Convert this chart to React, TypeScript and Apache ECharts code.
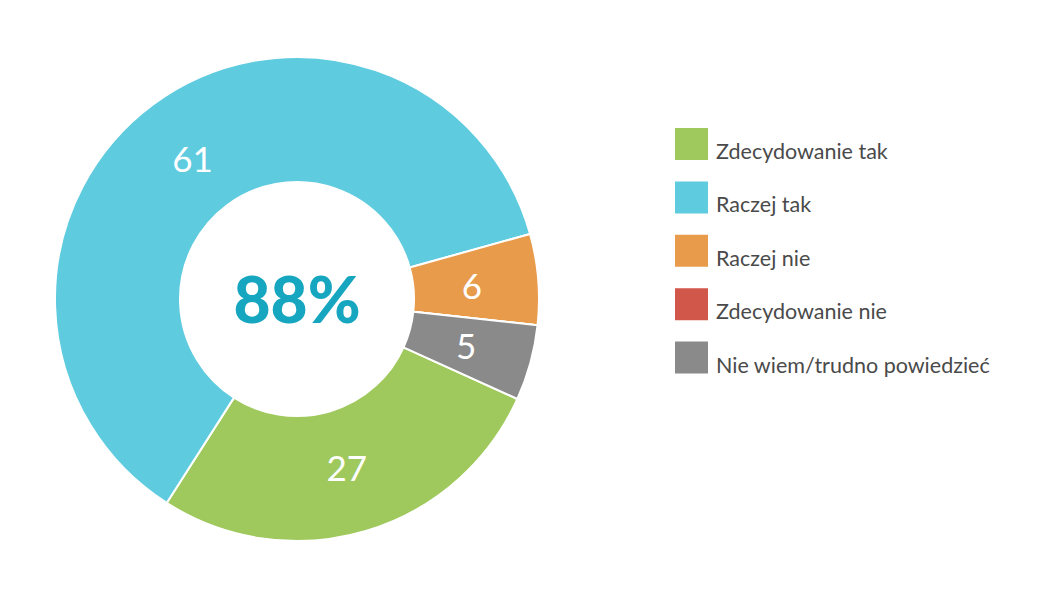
import React, { useEffect, useRef } from "react";
import * as echarts from "echarts";

const categories = [
  "Zdecydowanie tak",
  "Raczej tak",
  "Raczej nie",
  "Zdecydowanie nie",
  "Nie wiem/trudno powiedzieć",
];
const values = [27, 61, 6, 0, 5];
const colors = ["#9fc95c", "#5ecbdf", "#e89b4b", "#d1574b", "#8a8a8a"];
const centerLabel = "88%";

const CX = 297;
const CY = 299;

export default function App() {
  const ref = useRef<HTMLDivElement>(null);
  useEffect(() => {
    if (!ref.current) return;
    const chart = echarts.init(ref.current, undefined, { renderer: "svg" });
    chart.setOption({
      animation: false,
      color: colors,
      legend: {
        orient: "vertical",
        left: 670,
        top: 123,
        itemWidth: 33,
        itemHeight: 46,
        itemGap: 7.4,
        icon: "path://M0,0H33V32H0Z M0,46L33,46",
        itemStyle: { borderWidth: 0 },
        selectedMode: false,
        textStyle: {
          fontFamily: "Lato",
          fontSize: 21.5,
          color: "#4a4a4a",
          padding: [0, 0, 0, 3],
        },
        data: categories,
      },
      graphic: [
        {
          type: "text",
          x: CX,
          y: 298,
          style: {
            text: centerLabel,
            x: 0,
            y: 0,
            align: "center",
            verticalAlign: "middle",
            fontFamily: "Lato",
            fontWeight: 900,
            fontSize: 64,
            fill: "#17a6bf",
          },
        },
      ],
      series: [
        {
          type: "pie",
          center: [CX, CY],
          radius: [117, 242],
          startAngle: -24.4,
          clockwise: true,
          avoidLabelOverlap: false,
          itemStyle: { borderColor: "#ffffff", borderWidth: 2 },
          label: {
            show: true,
            position: "inside",
            formatter: "{c}",
            color: "#ffffff",
            fontFamily: "Lato",
            fontSize: 35,
          },
          labelLayout: (p: any) => {
            const r = p.labelRect;
            const dx = r.x + r.width / 2 - CX;
            const dy = r.y + r.height / 2 - CY;
            const d = Math.hypot(dx, dy) || 1;
            return { dx: (-7 * dx) / d, dy: (-7 * dy) / d };
          },
          labelLine: { show: false },
          emphasis: { disabled: true },
          data: categories.map((name, i) => ({
            name,
            value: values[i],
            label: values[i] === 0 ? { show: false } : undefined,
          })),
        },
      ],
    });
    return () => chart.dispose();
  }, []);
  return (
    <div
      ref={ref}
      style={{ position: "absolute", left: 0, top: 0, width: 1050, height: 590, background: "#fff" }}
    />
  );
}
